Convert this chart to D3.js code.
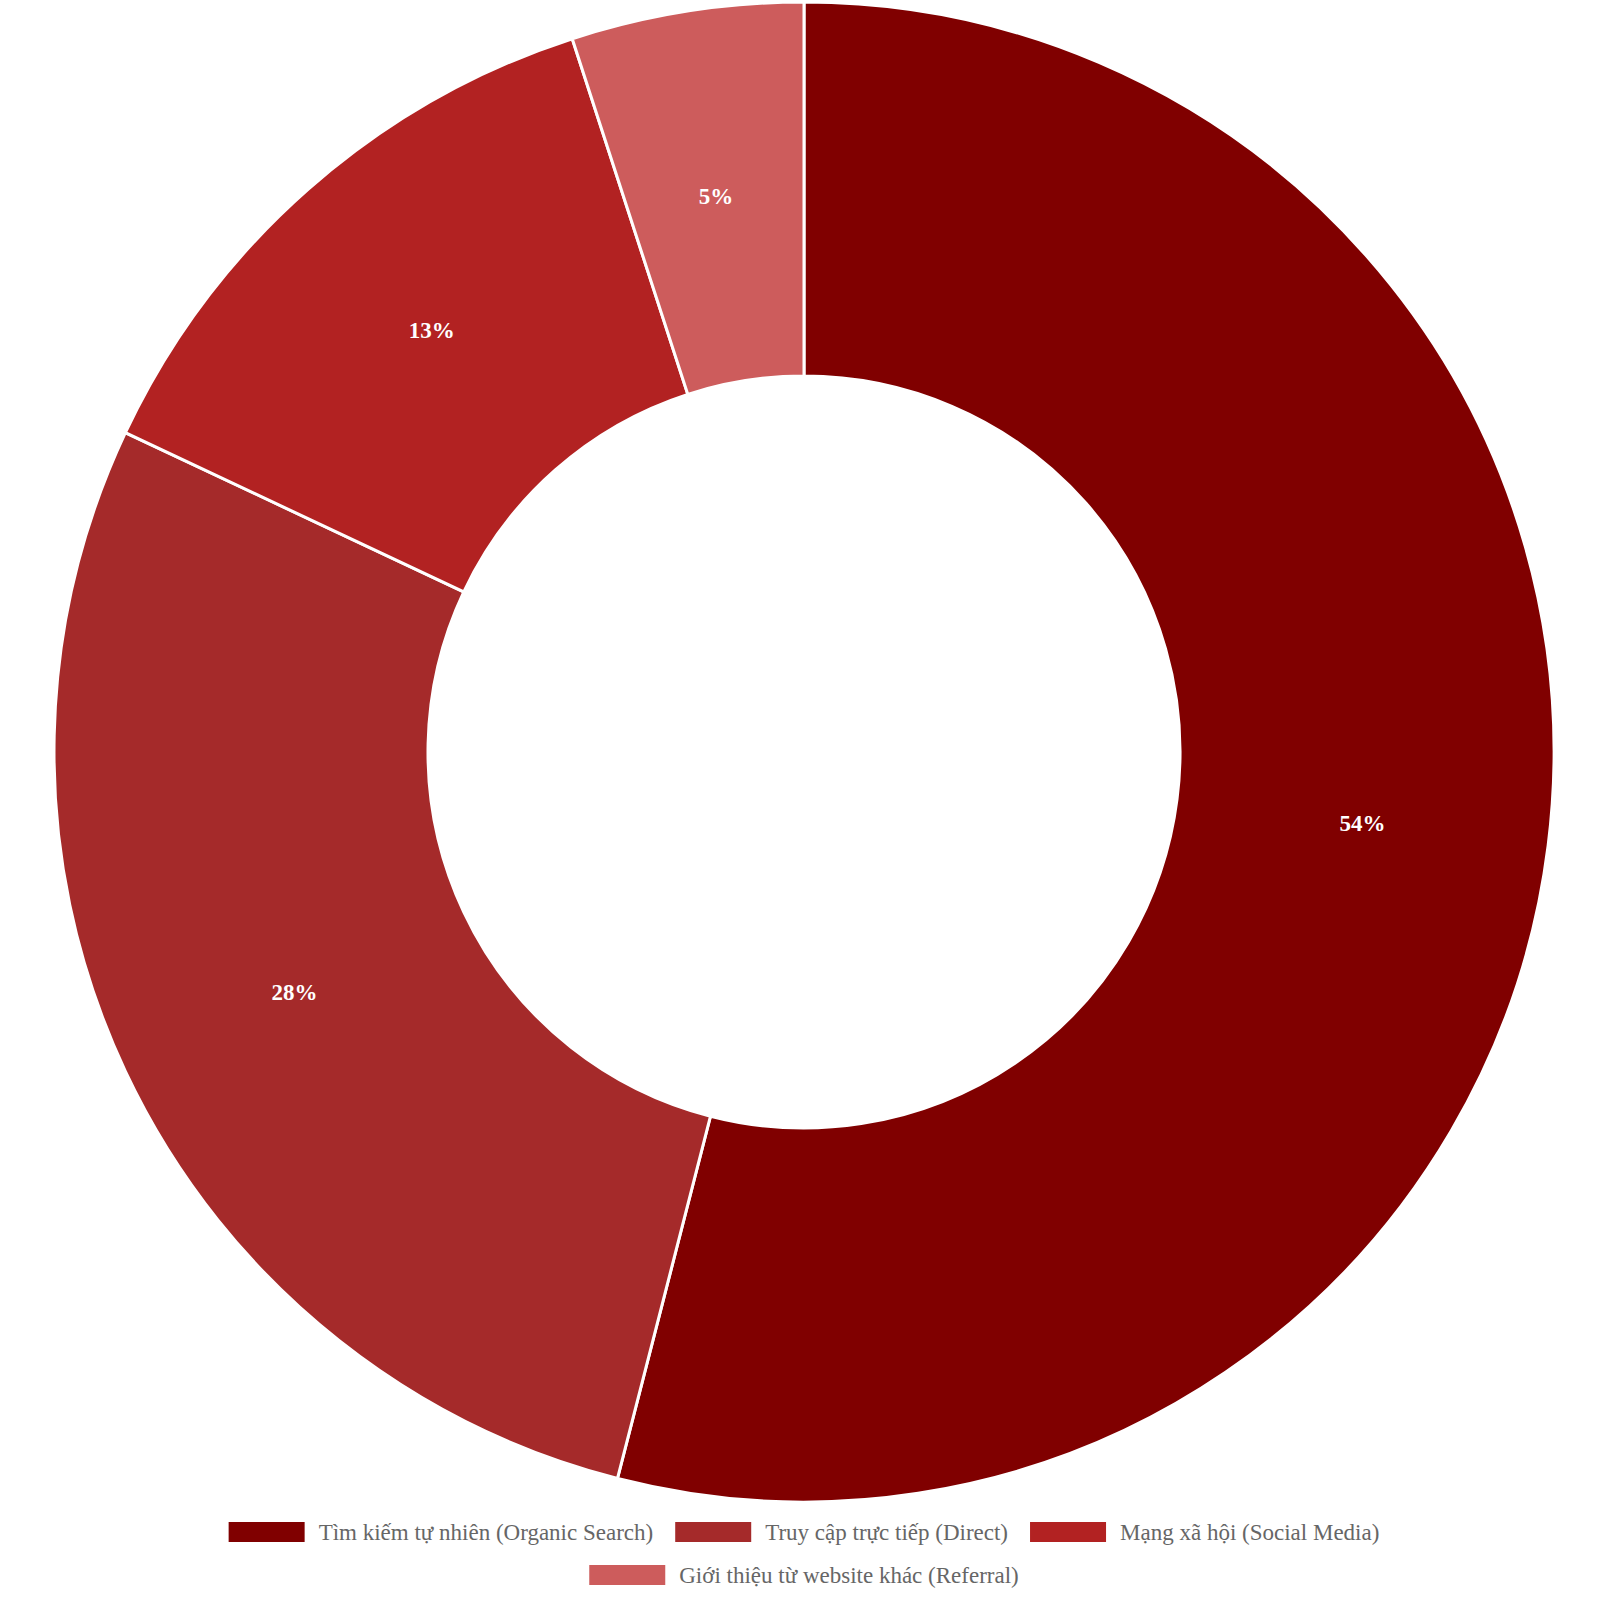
<!DOCTYPE html>
<html><head><meta charset="utf-8">
<script src="https://cdn.jsdelivr.net/npm/d3@7"></script>
<style>body{margin:0;background:#fff}</style>
</head><body>
<svg id="chart" width="1600" height="1600"></svg>
<script>
const categories = ["Tìm kiếm tự nhiên (Organic Search)", "Truy cập trực tiếp (Direct)", "Mạng xã hội (Social Media)", "Giới thiệu từ website khác (Referral)"];
const values = [54, 28, 13, 5];
const colors = ["#800000", "#A52A2A", "#B22222", "#CD5C5C"];

const svg = d3.select("#chart");
const cx = 804, cy = 752, outerR = 750, innerR = 376;
const data = categories.map((c, i) => ({name: c, value: values[i], color: colors[i]}));

const pie = d3.pie().value(d => d.value).sort(null);
const arc = d3.arc().innerRadius(innerR).outerRadius(outerR);
const labelArc = d3.arc().innerRadius((innerR + outerR) / 2).outerRadius((innerR + outerR) / 2);

const g = svg.append("g").attr("transform", `translate(${cx},${cy})`);
const arcs = pie(data);
g.selectAll("path").data(arcs).join("path")
  .attr("d", arc).attr("fill", d => d.data.color)
  .attr("stroke", "#fff").attr("stroke-width", 3);
g.selectAll("text").data(arcs).join("text")
  .attr("transform", d => `translate(${labelArc.centroid(d)})`)
  .attr("text-anchor", "middle").attr("dy", "0.35em")
  .attr("fill", "#fff").attr("font-family", "Liberation Serif, serif")
  .attr("font-weight", "bold").attr("font-size", 23)
  .text(d => d.data.value + "%");

// legend
const lg = svg.append("g").attr("font-family", "Liberation Serif, serif").attr("font-size", 23).attr("fill", "#666");
const sw = 76, gap = 14, itemGap = 22, maxW = 1400;
const measure = lg.append("text").attr("visibility", "hidden");
const items = data.map(d => { measure.text(d.name); return {d, w: sw + gap + measure.node().getComputedTextLength()}; });
measure.remove();
const rows = [[]]; let rw = 0;
items.forEach(it => {
  if (rw + it.w > maxW && rows[rows.length - 1].length) { rows.push([]); rw = 0; }
  rows[rows.length - 1].push(it); rw += it.w + itemGap;
});
rows.forEach((row, ri) => {
  const total = d3.sum(row, r => r.w) + itemGap * (row.length - 1);
  let x = cx - total / 2;
  const y = 1532 + ri * 43;
  row.forEach(it => {
    lg.append("rect").attr("x", x).attr("y", y - 10).attr("width", sw).attr("height", 20).attr("fill", it.d.color);
    lg.append("text").attr("x", x + sw + gap).attr("y", y).attr("dy", "0.35em").text(it.d.name);
    x += it.w + itemGap;
  });
});
</script>
</body></html>
